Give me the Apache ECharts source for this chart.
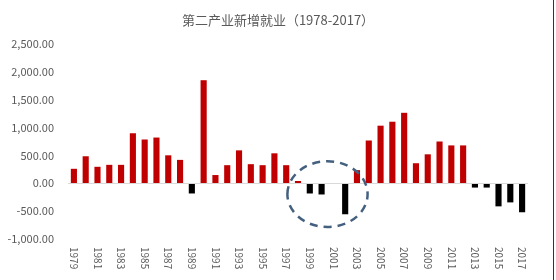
<!DOCTYPE html>
<html>
<head>
<meta charset="utf-8">
<script src="https://cdn.jsdelivr.net/npm/echarts@6/dist/echarts.min.js"></script>
<style>html,body{margin:0;padding:0;background:#fff;}#c{width:556px;height:280px;}</style>
</head>
<body>
<div id="c"></div>
<script>
const titleText = '第二产业新增就业（1978-2017）';
const years = ['1979','1980','1981','1982','1983','1984','1985','1986','1987','1988','1989','1990','1991','1992','1993','1994','1995','1996','1997','1998','1999','2000','2001','2002','2003','2004','2005','2006','2007','2008','2009','2010','2011','2012','2013','2014','2015','2016','2017'];
const values = [260,485,296,331,331,898,786,821,502,420,-183,1850,148,325,591,343,325,538,325,41,-183,-201,0,-556,236,768,1034,1105,1265,360,520,750,680,680,-77,-77,-414,-343,-520];
const yMin = -1000, yMax = 2500, yStep = 500;
// annotation: dashed ellipse around the late-1990s / early-2000s dip
const circleLeftCat = '2000', circleRightCat = '2001';
const circleCenterVal = -195;
const circleHalfCats = 3.4;
const circleTopVal = 395;

const chart = echarts.init(document.getElementById('c'), null, {renderer:'canvas'});
const font = '"Noto Sans CJK SC", "Noto Sans", sans-serif';
chart.setOption({
  animation: false,
  backgroundColor: '#fff',
  title: {
    text: titleText, left: 'center', top: 9,
    textStyle: {fontFamily: font, fontSize: 13, fontWeight: 'normal', color: '#595959'}
  },
  grid: {left: 68, right: 28, top: 44, bottom: 41, containLabel: false},
  xAxis: {
    type: 'category', data: years,
    axisLine: {show: false, onZero: false}, axisTick: {show: false},
    axisLabel: {rotate: -90, interval: 1, margin: 8, fontFamily: font, fontSize: 10, color: '#595959'}
  },
  yAxis: {
    type: 'value', min: yMin, max: yMax, interval: yStep,
    splitLine: {show: false}, axisLine: {show: false}, axisTick: {show: false},
    axisLabel: {
      margin: 14, fontFamily: font, fontSize: 11, color: '#595959',
      formatter: v => v.toLocaleString('en-US', {minimumFractionDigits: 2, maximumFractionDigits: 2})
    }
  },
  series: [{
    type: 'bar', data: values, barWidth: '52%',
    itemStyle: {color: p => p.value >= 0 ? '#C00000' : '#000000'},
    markLine: {
      silent: true, symbol: 'none', label: {show: false},
      lineStyle: {color: '#d9d9d9', type: 'solid', width: 1},
      data: [{yAxis: 0}]
    }
  }]
});

const pL = chart.convertToPixel({gridIndex: 0}, [circleLeftCat, circleCenterVal]);
const pR = chart.convertToPixel({gridIndex: 0}, [circleRightCat, circleCenterVal]);
const pT = chart.convertToPixel({gridIndex: 0}, [circleLeftCat, circleTopVal]);
const step = pR[0] - pL[0];
const cx = (pL[0] + pR[0]) / 2, cy = pL[1];
chart.setOption({
  graphic: [
    {type: 'ellipse', shape: {cx: cx, cy: cy, rx: step * circleHalfCats, ry: cy - pT[1]},
     style: {fill: 'none', stroke: '#44607f', lineWidth: 2.5, lineDash: [8, 6]}, z: 100},
    {type: 'line', shape: {x1: 553.5, y1: 0, x2: 553.5, y2: 280},
     style: {stroke: '#333', lineWidth: 1}, z: 100}
  ]
});
</script>
</body>
</html>
